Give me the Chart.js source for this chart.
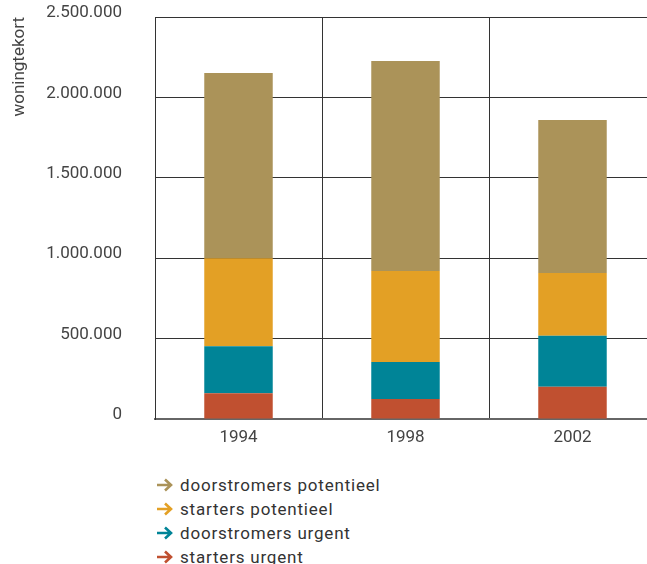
<!DOCTYPE html>
<html>
<head>
<meta charset="utf-8">
<script src="https://cdn.jsdelivr.net/npm/chart.js@4"></script>
<style>
  html, body { margin: 0; padding: 0; background: #fff; width: 647px; height: 564px; overflow: hidden; }
  #wrap { position: relative; width: 660px; height: 450px; }
  #legend { position: absolute; left: 156px; top: 473px; font-family: Roboto, sans-serif; font-size: 17px; letter-spacing: 0.8px; color: #333; }
  #legend div { height: 24px; line-height: 24px; display: flex; align-items: center; }
  #legend svg { margin-right: 6px; }
</style>
</head>
<body>
<div id="wrap"><canvas id="chart" width="660" height="450"></canvas></div>
<div id="legend"></div>
<script>
const jaren = ['1994', '1998', '2002'];
const startersUrgent = [160000, 124000, 201000];
const doorstromersUrgent = [292000, 230000, 317000];
const startersPotentieel = [548000, 566000, 390000];
const doorstromersPotentieel = [1152000, 1306000, 951000];
const yTicks = [0, 500000, 1000000, 1500000, 2000000, 2500000];

const series = [
  { label: 'starters urgent', data: startersUrgent, color: '#c05030' },
  { label: 'doorstromers urgent', data: doorstromersUrgent, color: '#008497' },
  { label: 'starters potentieel', data: startersPotentieel, color: '#e3a025' },
  { label: 'doorstromers potentieel', data: doorstromersPotentieel, color: '#ab9359' }
];

const fmt = v => v.toLocaleString('nl-NL');

new Chart(document.getElementById('chart').getContext('2d'), {
  type: 'bar',
  data: {
    labels: jaren,
    datasets: series.map(s => ({
      label: s.label,
      data: s.data,
      backgroundColor: s.color,
      barPercentage: 0.41,
      categoryPercentage: 1
    }))
  },
  options: {
    responsive: false,
    animation: false,
    layout: { padding: { top: 17, right: 4, left: 0, bottom: 0 } },
    plugins: {
      legend: { display: false },
      tooltip: { enabled: false }
    },
    scales: {
      x: {
        stacked: true,
        grid: { offset: true, color: '#333', lineWidth: 1, drawTicks: false },
        border: { color: '#666', width: 2 },
        ticks: { color: '#444', font: { family: 'Roboto', size: 17 }, padding: 9 },
        afterFit: s => { s.height = 31; }
      },
      y: {
        stacked: true,
        min: 0,
        max: 2500000,
        afterBuildTicks: s => { s.ticks = yTicks.map(v => ({ value: v })); },
        grid: { color: '#333', lineWidth: 1, drawTicks: false },
        border: { color: '#333', width: 1 },
        ticks: { color: '#444', font: { family: 'Roboto', size: 17 }, padding: 33, labelOffset: -4, callback: v => fmt(v) },
        title: {
          display: true,
          text: 'woningtekort',
          align: 'end',
          color: '#444',
          font: { family: 'Roboto', size: 17 },
          padding: { top: 10, bottom: 0 }
        },
        afterFit: s => {
          s.width = 155;
          // tick padding should only push labels sideways
          s.paddingTop = 0;
          s.paddingBottom = 0;
        }
      }
    }
  }
});

// legenda met pijltjes, bovenste laag eerst
const legend = document.getElementById('legend');
series.slice().reverse().forEach(s => {
  const row = document.createElement('div');
  row.innerHTML = `<svg width="18" height="14" viewBox="0 0 18 14"><path d="M1 7 H15 M9 1.5 L15 7 L9 12.5" fill="none" stroke="${s.color}" stroke-width="2.6"/></svg><span>${s.label}</span>`;
  legend.appendChild(row);
});
</script>
</body>
</html>
